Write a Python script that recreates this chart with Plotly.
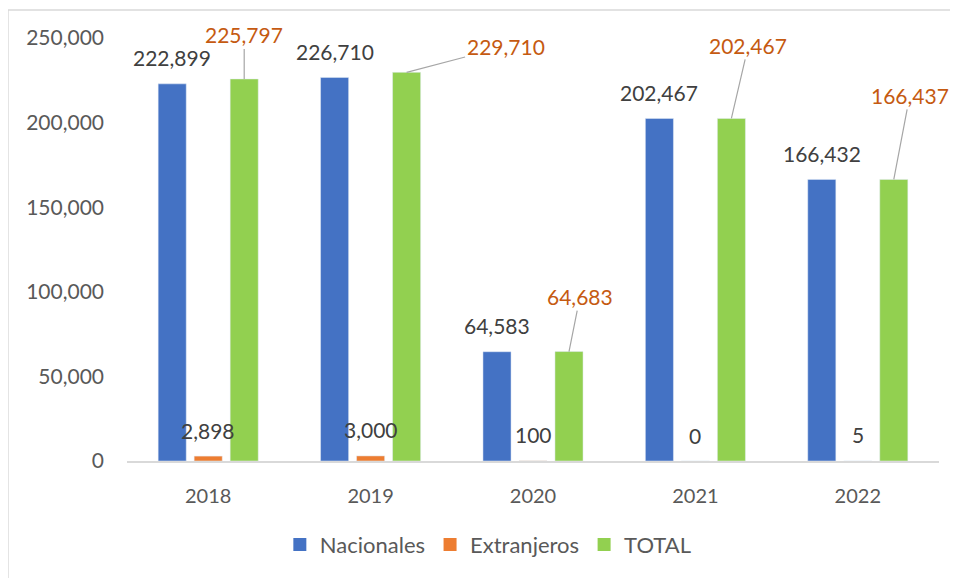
import plotly.graph_objects as go

years = ["2018", "2019", "2020", "2021", "2022"]
nacionales = [222899, 226710, 64583, 202467, 166432]
extranjeros = [2898, 3000, 100, 0, 5]
total = [225797, 229710, 64683, 202467, 166437]
y_ticks = [0, 50000, 100000, 150000, 200000, 250000]

# style: pixel offsets of the TOTAL labels relative to bar tops (leader lines)
total_label_dx = [0, 99, 11, 17, 16]
total_label_dy = [-44, -26, -55, -73, -84]

FONT = "Lato, Carlito, Calibri, sans-serif"
C_NAC = "#4472C4"
C_EXT = "#ED7D31"
C_TOT = "#92D050"
LABEL = "#404040"
TICK = "#595959"
ORANGE_TXT = "#C55A11"

series = [("Nacionales", nacionales, C_NAC), ("Extranjeros", extranjeros, C_EXT), ("TOTAL", total, C_TOT)]

fig = go.Figure()
for name, vals, col in series:
    fig.add_trace(go.Bar(name=name, x=years, y=vals, marker_color=col, showlegend=False))
for name, vals, col in series:
    fig.add_trace(go.Scatter(name=name, x=[years[0]], y=[None], mode="markers",
                             marker=dict(symbol="square", size=13, color=col), showlegend=True,
                             hoverinfo="skip"))

ann = []
SLOT = 36
for i, yr in enumerate(years):
    # on a category axis, annotation x is the category index
    ann.append(dict(x=i, y=nacionales[i], xref="x", yref="y", text=f"{nacionales[i]:,}",
                    showarrow=False, xshift=-SLOT, yshift=26, yanchor="middle",
                    font=dict(family=FONT, size=21, color=LABEL)))
    ann.append(dict(x=i, y=extranjeros[i], xref="x", yref="y", text=f"{extranjeros[i]:,}",
                    showarrow=False, xshift=0, yshift=26, yanchor="middle",
                    font=dict(family=FONT, size=21, color=LABEL)))
    ann.append(dict(x=i, y=total[i], xref="x", yref="y", text=f"{total[i]:,}",
                    showarrow=True, arrowhead=0, arrowwidth=1.2, arrowcolor="#A6A6A6",
                    ax=total_label_dx[i], ay=total_label_dy[i],
                    xshift=SLOT, standoff=0,
                    font=dict(family=FONT, size=21, color=ORANGE_TXT)))

fig.update_layout(
    width=950, height=570,
    margin=dict(l=119, r=19, t=30, b=115),
    paper_bgcolor="white", plot_bgcolor="white",
    barmode="group", bargap=0.335, bargroupgap=0.22,
    font=dict(family=FONT, size=20, color=TICK),
    showlegend=True,
    legend=dict(orientation="h", x=0.445, xanchor="center", y=-0.198, yanchor="middle",
                font=dict(family=FONT, size=22, color=TICK), itemclick=False),
    annotations=ann,
    shapes=[dict(type="rect", xref="paper", yref="paper",
                 x0=-0.1466, x1=1.05, y0=-0.35, y1=1.0659,
                 line=dict(color="#D9D9D9", width=1.5), fillcolor="rgba(0,0,0,0)", layer="below")],
)
fig.update_xaxes(type="category", categoryorder="array", categoryarray=years,
                 range=[-0.5, len(years) - 0.5], autorange=False,
                 showline=True, linecolor="#D9D9D9", linewidth=1.5, showgrid=False,
                 ticks="", ticklabelstandoff=16, tickfont=dict(family=FONT, size=20, color=TICK))
fig.update_yaxes(range=[0, 250000], autorange=False, tickvals=y_ticks, tickformat=",", showgrid=False,
                 showline=False, zeroline=False, ticks="", ticklabelstandoff=22,
                 tickfont=dict(family=FONT, size=21, color=TICK))

fig.write_html("out.html")
